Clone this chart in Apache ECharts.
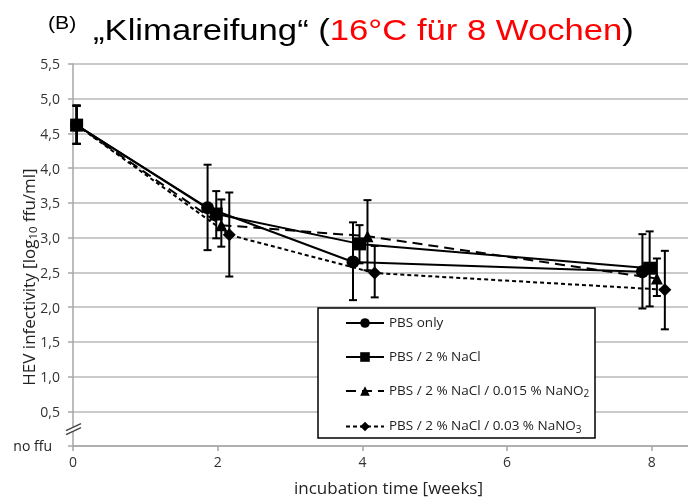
<!DOCTYPE html>
<html><head><meta charset="utf-8">
<script src="https://cdn.jsdelivr.net/npm/echarts@6/dist/echarts.min.js"></script>
<style>html,body{margin:0;padding:0;background:#fff}#c{width:688px;height:499px}</style>
</head><body><div id="c"></div><script>
const seriesNames = ['PBS only', 'PBS / 2 % NaCl', 'PBS / 2 % NaCl / 0.015 % NaNO2', 'PBS / 2 % NaCl / 0.03 % NaNO3'];
// x = incubation time (weeks, slightly staggered as in the figure), y = log10 ffu/ml
const pbsX = [0.05, 1.86, 3.87, 7.87];
const pbsY = [4.62, 3.43, 2.65, 2.51];
const pbsLo = [4.35, 2.82, 2.10, 1.98];
const pbsHi = [4.90, 4.05, 3.22, 3.05];
const naclX = [0.05, 1.98, 3.96, 7.97];
const naclY = [4.62, 3.34, 2.91, 2.56];
const naclLo = [4.35, 2.99, 2.63, 2.01];
const naclHi = [4.90, 3.67, 3.18, 3.09];
const nitriteX = [0.05, 2.05, 4.07, 8.07];
const nitriteY = [4.62, 3.18, 3.02, 2.41];
const nitriteLo = [4.35, 2.87, 2.53, 2.16];
const nitriteHi = [4.90, 3.55, 3.54, 2.70];
const nitrateX = [0.05, 2.16, 4.17, 8.18];
const nitrateY = [4.62, 3.04, 2.49, 2.25];
const nitrateLo = [4.35, 2.44, 2.14, 1.68];
const nitrateHi = [4.90, 3.65, 2.88, 2.81];
const xTicks = [0, 2, 4, 6, 8];

const FONT = 'Open Sans';
const chart = echarts.init(document.getElementById('c'), null, {renderer: 'canvas'});

function zip(xs, ys) { return xs.map((x, i) => [x, ys[i]]); }
function errSeries(xs, lo, hi, z) {
  return {
    type: 'custom', silent: true, z: z,
    data: xs.map((x, i) => [x, lo[i], hi[i]]),
    encode: {x: 0, y: [1, 2]},
    renderItem(params, api) {
      const x = api.value(0);
      const a = api.coord([x, api.value(1)]);
      const b = api.coord([x, api.value(2)]);
      const w = 4;
      const st = {stroke: '#000', lineWidth: 2};
      return {type: 'group', children: [
        {type: 'line', shape: {x1: a[0], y1: a[1], x2: b[0], y2: b[1]}, style: st},
        {type: 'line', shape: {x1: a[0] - w, y1: a[1], x2: a[0] + w, y2: a[1]}, style: st},
        {type: 'line', shape: {x1: b[0] - w, y1: b[1], x2: b[0] + w, y2: b[1]}, style: st}
      ]};
    }
  };
}
function lineSeries(name, xs, ys, symbol, size, dash, z) {
  return {
    name: name, type: 'line', data: zip(xs, ys), symbol: symbol, symbolSize: size,
    z: z, silent: true,
    itemStyle: {color: '#000'},
    lineStyle: {color: '#000', width: 2, type: dash},
    emphasis: {disabled: true}
  };
}

const option = {
  animation: false,
  backgroundColor: '#fff',
  grid: {left: 73, right: 0, top: 64, bottom: 53, containLabel: false, outerBoundsMode: 'none'},
  xAxis: {
    type: 'value', min: 0, max: 8.5, interval: 2,
    name: 'incubation time [weeks]', nameLocation: 'middle', nameGap: 35,
    nameTextStyle: {fontFamily: FONT, fontSize: 17, color: '#222', padding: [0, 0, 0, 16]},
    axisLine: {show: true, lineStyle: {color: '#a6a6a6', width: 1.5}},
    axisTick: {show: true, length: 5, lineStyle: {color: '#a6a6a6', width: 1.5}, customValues: xTicks},
    axisLabel: {fontFamily: FONT, fontSize: 14, color: '#333', margin: 10, customValues: xTicks},
    splitLine: {show: false}
  },
  yAxis: {
    type: 'value', min: 0, max: 5.5, interval: 0.5,
    axisLine: {show: true, lineStyle: {color: '#a6a6a6', width: 1.5}},
    axisTick: {show: true, length: 5, lineStyle: {color: '#a6a6a6', width: 1.5}},
    axisLabel: {fontFamily: FONT, fontSize: 14, color: '#333', margin: 13,
      formatter: v => v === 0 ? '{n|no ffu}' : '{v|' + v.toFixed(1).replace('.', ',') + '}',
      rich: {n: {fontFamily: FONT, fontSize: 14, color: '#222', padding: [2, 8, 0, 0]},
             v: {fontFamily: FONT, fontSize: 14, color: '#333', padding: [3, 0, 0, 0]}}},
    splitLine: {show: true, lineStyle: {color: '#b8b8b8', width: 1.5}}
  },
  legend: {
    data: seriesNames, orient: 'vertical', left: 340, top: 311,
    itemWidth: 38, itemHeight: 12, itemGap: 20, z: 10,
    selectedMode: false,
    formatter(name) {
      const m = name.match(/^(.*NaNO)(\d)$/);
      return m ? '{t|' + m[1] + '}{s|' + m[2] + '}' : '{t|' + name + '}';
    },
    textStyle: {rich: {
      t: {fontFamily: FONT, fontSize: 13.5, color: '#222'},
      s: {fontFamily: FONT, fontSize: 10, color: '#222', padding: [7, 0, 0, 0]}
    }}
  },
  series: [
    errSeries(pbsX, pbsLo, pbsHi, 3),
    errSeries(naclX, naclLo, naclHi, 3),
    errSeries(nitriteX, nitriteLo, nitriteHi, 3),
    errSeries(nitrateX, nitrateLo, nitrateHi, 3),
    lineSeries(seriesNames[3], nitrateX, nitrateY, 'diamond', [13, 13], [4, 3], 4),
    lineSeries(seriesNames[2], nitriteX, nitriteY, 'triangle', [12, 12], [10, 6], 5),
    lineSeries(seriesNames[0], pbsX, pbsY, 'circle', 13, 'solid', 6),
    lineSeries(seriesNames[1], naclX, naclY, 'rect', 13, 'solid', 7)
  ]
};
chart.setOption(option);

// decorations: title, legend box, axis break, rotated y-axis title
const p0 = chart.convertToPixel({gridIndex: 0}, [0, 0.25]);
const ax = p0[0], by = p0[1] - 2;
chart.setOption({
  graphic: [
    {type: 'text', z: 9, x: 48, y: 24, scaleX: 1.18,
     style: {text: '(B)', fontFamily: 'Liberation Sans', fontSize: 18, fill: '#000', align: 'left', verticalAlign: 'middle'}},
    {type: 'text', z: 9, x: 93, y: 32, scaleX: 1.155,
     style: {text: '{k|„Klimareifung“ (}{r|16°C für 8 Wochen}{k|)}', align: 'left', verticalAlign: 'middle',
       rich: {k: {fontFamily: 'Liberation Sans', fontSize: 30, fill: '#000'},
              r: {fontFamily: 'Liberation Sans', fontSize: 30, fill: '#ff0000'}}}},
    {type: 'rect', z: 8, shape: {x: 318, y: 308, width: 277, height: 130},
     style: {fill: '#fff', stroke: '#000', lineWidth: 1.5}},
    {type: 'polygon', z: 8, shape: {points: [[ax - 7, by + 4], [ax + 7, by - 3], [ax + 7, by + 1], [ax - 7, by + 8]]},
     style: {fill: '#fff'}},
    {type: 'line', z: 9, shape: {x1: ax - 7, y1: by + 4, x2: ax + 8, y2: by - 3}, style: {stroke: '#444', lineWidth: 1.5}},
    {type: 'line', z: 9, shape: {x1: ax - 7, y1: by + 8, x2: ax + 8, y2: by + 1}, style: {stroke: '#444', lineWidth: 1.5}},
    {type: 'text', z: 9, x: 30, y: 277, rotation: Math.PI / 2,
     style: {text: '{a|HEV infectivity [log}{s|10}{a| ffu/ml]}', align: 'center', verticalAlign: 'middle',
       rich: {a: {fontFamily: FONT, fontSize: 17, fill: '#222'},
              s: {fontFamily: FONT, fontSize: 11.5, fill: '#222', padding: [7, 0, 0, 0]}}}}
  ]
});
</script></body></html>
